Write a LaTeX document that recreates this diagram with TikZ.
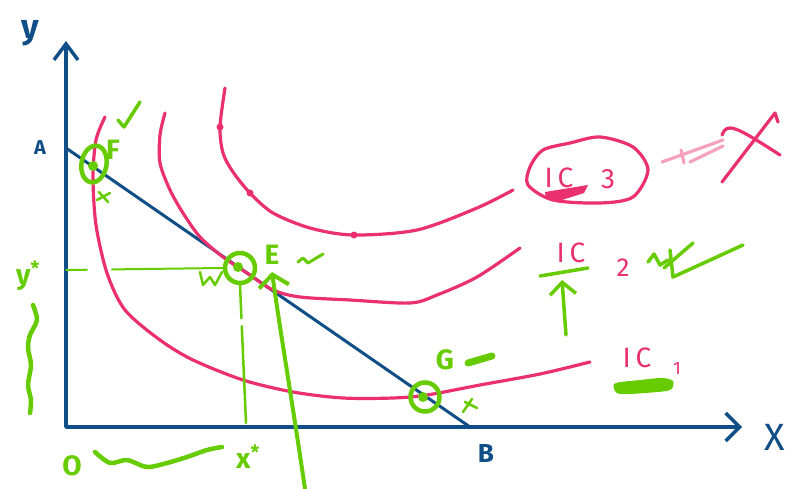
\documentclass[tikz,border=0pt]{standalone}
\usepackage{fontspec}
\setmainfont{Fira Sans}
\usetikzlibrary{arrows.meta,positioning,shapes.geometric}
\definecolor{AxisBlue}{RGB}{16,78,135}
\definecolor{CurvePink}{RGB}{234,48,110}
\definecolor{NoteGreen}{RGB}{102,204,0}

\begin{document}
\begin{tikzpicture}[x=1pt,y=-1pt,
  axis/.style={line width=3.5pt,AxisBlue,line cap=round,line join=round},
  curve/.style={line width=3.2pt,CurvePink,line cap=round,line join=round},
  note/.style={line width=3.5pt,NoteGreen,line cap=round,line join=round},
  guide/.style={line width=2pt,NoteGreen,line cap=round},
  bluelabel/.style={text=AxisBlue,font=\fontsize{30}{30}\selectfont},
  pinklabel/.style={text=CurvePink,font=\fontsize{28}{28}\selectfont,inner sep=0pt},
  greenlabel/.style={text=NoteGreen,font=\fontsize{28}{28}\selectfont\bfseries,inner sep=0pt},
  ring/.style={draw=NoteGreen,line width=4.5pt,inner sep=0pt},
  dot/.style={fill=NoteGreen,circle,minimum size=10pt,inner sep=0pt},
  icdot/.style={fill=CurvePink,circle,minimum size=7pt,inner sep=0pt}
]
\useasboundingbox (0,0) rectangle (789,489);

% axes and budget line
\coordinate (O) at (66,427);
\coordinate (ytip) at (66,41);
\coordinate (xtip) at (742,427);
\coordinate (A) at (66,148);
\coordinate (B) at (470,427);
\draw[axis,{Straight Barb[length=16pt,width=24pt]}-{Straight Barb[length=14pt,width=28pt]}] (ytip) -- (O) -- (xtip);
\draw[axis,line width=3pt] (A) -- (B);
\node[bluelabel,font=\fontsize{34}{34}\selectfont\bfseries] (ylab) at (30,33) {y};
\node[bluelabel,font=\fontsize{38}{38}\selectfont] (xlab) at (775,437) {X};
\node[bluelabel,font=\fontsize{20}{20}\selectfont\bfseries] (Alab) at (40,148) {A};
\node[bluelabel,font=\fontsize{26}{26}\selectfont\bfseries] (Blab) at (486,453) {B};

% indifference curves
\draw[curve] plot[smooth] coordinates {(105,117) (96,140) (93,177) (96,225) (107,273) (125,310) (160,340) (193,360) (243,380) (293,392) (343,398) (393,398) (427,395) (480,385) (540,374) (590,362)};
\draw[curve] plot[smooth] coordinates {(165,113) (160,135) (160,163) (170,190) (183,213) (200,237) (223,257) (247,273) (273,290) (300,297) (350,300) (410,303) (437,295) (477,277) (520,248)};
\draw[curve] plot[smooth] coordinates {(225,88) (220,127) (223,153) (233,172) (250,193) (273,213) (310,228) (353,235) (417,230) (477,208) (513,190)};
\node[icdot] (d1) at (220,127) {};
\node[icdot] (d2) at (250,193) {};
\node[icdot] (d3) at (354,235) {};

% curve labels
\draw[curve] plot[smooth cycle] coordinates {(543,150) (570,143) (600,137) (633,147) (648,170) (633,197) (600,203) (553,200) (528,185) (530,167)};
\node[pinklabel] (ic3) at (559,178) {I\,C};
\node[pinklabel] (ic3n) at (608,179) {3};
\fill[CurvePink] (545,192) -- (588,185) -- (584,193) -- (562,200) -- (546,199) -- cycle;
\node[pinklabel] (ic2) at (571,253) {I\,C};
\node[pinklabel,font=\fontsize{26}{26}\selectfont] (ic2n) at (623,268) {2};
\node[pinklabel] (ic1) at (637,358) {I\,C};
\node[pinklabel,font=\fontsize{18}{18}\selectfont] (ic1n) at (677,368) {1};
\draw[curve,CurvePink!45] (662,162) -- (723,140);
\draw[curve,CurvePink!45] (690,162) -- (723,146);
\draw[curve,CurvePink!45] (681,150) -- (684,163);
\draw[curve] (722,182) -- (775,113) -- (778,122);
\draw[curve] (722,135) .. controls (727,122) and (735,126) .. (780,155);

% points F, E, G
\node[ring,ellipse,minimum width=25pt,minimum height=37pt,rotate=-10] (Fring) at (94,164) {};
\node[dot] (Fdot) at (93,166) {};
\node[greenlabel] (Flab) at (113,150) {F};
\draw[note] (118,120) -- (124,127) -- (140,102);
\draw[guide,line width=2.5pt] (99,192) -- (108,202) (97,200) -- (110,193);

\node[ring,circle,minimum size=30pt] (Ering) at (240,268) {};
\node[dot] (Edot) at (238,267) {};
\node[greenlabel] (Elab) at (272,255) {E};
\draw[note,line width=3pt] (298,262) -- (303,258) -- (308,263) -- (323,254);
\draw[note,line width=2.5pt] (200,272) -- (203,285) -- (210,277) -- (215,285) -- (222,272);

\node[ring,circle,minimum size=29pt] (Gring) at (425,397) {};
\node[dot] (Gdot) at (423,397) {};
\node[greenlabel] (Glab) at (445,360) {G};
\draw[note,line width=7pt] (468,363) -- (492,356);
\draw[note,line width=2.5pt] (463,412) -- (472,399) (465,402) -- (477,408);

% equilibrium guides
\coordinate (ystar) at (66,270);
\coordinate (xstar) at (246,423);
\draw[guide,dash pattern=on 21pt off 25pt on 300pt] (ystar) -- (Ering.west);
\draw[guide,line width=2.5pt,dash pattern=on 33pt off 8pt on 300pt] (Ering.south) -- (xstar);
\coordinate (foot) at (305,489);
\coordinate (head) at (272,272);
\draw[note,line width=4pt,-{Straight Barb[length=12pt,width=30pt]}] (foot) .. controls (292,400) and (280,330) .. (head);

% axis annotations
\node[greenlabel] (ystarlab) at (28,276) {y\textsuperscript{*}};
\node[greenlabel] (olab) at (72,466) {O};
\node[greenlabel] (xstarlab) at (248,457) {x\textsuperscript{*}};
\draw[note,line width=4.5pt] plot[smooth] coordinates {(33,305) (37,320) (30,335) (28,348) (31,365) (28,385) (31,400) (30,413)};
\draw[note,line width=4.5pt] plot[smooth] coordinates {(95,452) (110,463) (127,460) (147,467) (167,463) (187,457) (207,450) (222,447)};

% IC annotations
\draw[note] (540,276) -- (588,268);
\coordinate (ic2foot) at (566,335);
\coordinate (ic2head) at (562,280);
\draw[note,-{Straight Barb[length=12pt,width=26pt]}] (ic2foot) -- (ic2head);
\draw[note] (648,262) -- (654,254) -- (660,265) -- (668,260);
\draw[note] (670,250) -- (673,277) -- (743,245);
\draw[note] (664,268) -- (693,243);
\fill[NoteGreen] plot[smooth cycle] coordinates {(616,383) (640,380) (662,378) (673,381) (670,390) (645,393) (620,394) (614,389)};
\end{tikzpicture}
\end{document}
